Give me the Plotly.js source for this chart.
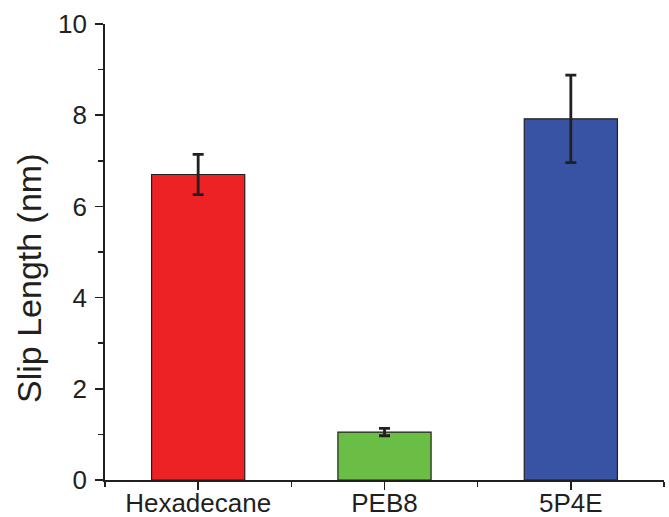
<!DOCTYPE html>
<html>
<head>
<meta charset="utf-8">
<script src="https://cdn.plot.ly/plotly-3.0.1.min.js"></script>
<style>
  html, body { margin: 0; padding: 0; background: #ffffff; }
  #chart { width: 669px; height: 517px; }
</style>
</head>
<body>
<div id="chart"></div>
<script>
// Slip length per liquid, with standard deviation
const liquids = ['Hexadecane', 'PEB8', '5P4E'];
const slipLength = [6.70, 1.05, 7.92];
const slipError = [0.44, 0.08, 0.96];
const barColors = ['#ED2224', '#6BBE45', '#3953A4'];
const yTickValues = [0, 2, 4, 6, 8, 10];

const ink = '#231F20';
const positions = liquids.map((_, i) => i);

const trace = {
  type: 'bar',
  x: positions,
  y: slipLength,
  width: 0.5,
  marker: { color: barColors, line: { color: ink, width: 1.2 } },
  error_y: {
    type: 'data',
    array: slipError,
    visible: true,
    color: ink,
    thickness: 2.8,
    width: 5.5
  },
  hoverinfo: 'x+y'
};

const layout = {
  width: 669,
  height: 517,
  margin: { l: 105, r: 5, t: 24, b: 37 },
  paper_bgcolor: '#ffffff',
  plot_bgcolor: '#ffffff',
  showlegend: false,
  font: { family: 'Liberation Sans, Arial, sans-serif', color: ink },
  xaxis: {
    range: [-0.5, 2.5],
    tickvals: positions,
    ticktext: liquids,
    ticks: 'outside',
    ticklen: 8,
    tickwidth: 1.5,
    tickcolor: ink,
    tickfont: { size: 26, color: ink },
    ticklabelstandoff: -9,
    showline: true,
    linecolor: ink,
    linewidth: 1.8,
    showgrid: false,
    zeroline: false,
    fixedrange: true,
    minor: { tick0: 0.5, dtick: 1, ticks: 'outside', ticklen: 5, tickwidth: 1.5, tickcolor: ink, showgrid: false }
  },
  yaxis: {
    range: [0, 10],
    tickvals: yTickValues,
    ticks: 'outside',
    ticklen: 8,
    tickwidth: 1.5,
    tickcolor: ink,
    tickfont: { size: 26, color: ink },
    ticklabelstandoff: 3,
    showline: true,
    linecolor: ink,
    linewidth: 1.8,
    showgrid: false,
    zeroline: false,
    fixedrange: true,
    minor: { tick0: 1, dtick: 2, ticks: 'outside', ticklen: 5, tickwidth: 1.5, tickcolor: ink, showgrid: false }
  },
  annotations: [{
    text: 'Slip Length (nm)',
    xref: 'paper', yref: 'paper',
    x: -0.136, y: 0.443,
    xanchor: 'center', yanchor: 'middle',
    textangle: -90,
    showarrow: false,
    font: { size: 34, color: ink }
  }]
};

Plotly.newPlot('chart', [trace], layout, { displayModeBar: false, staticPlot: true });
</script>
</body>
</html>
